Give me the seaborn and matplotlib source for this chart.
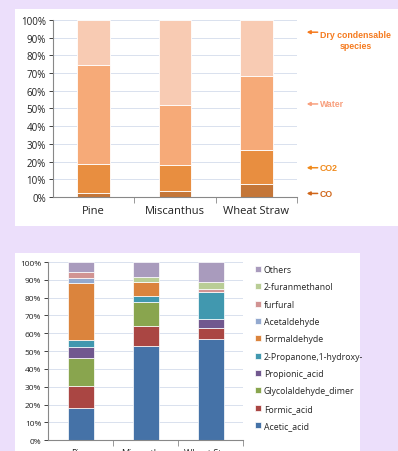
import seaborn as sns
import pandas as pd
import matplotlib.pyplot as plt
import matplotlib.ticker as mtick
from matplotlib.patches import Rectangle

# Data
feedstocks = ["Pine", "Miscanthus", "Wheat Straw"]

# top chart: gas/liquid split (%)
gas_parts = ["Dry condensable species", "Water", "CO2", "CO"]
co = [2.4, 3.4, 7.6]
co2 = [16.2, 14.7, 18.8]
water = [55.9, 33.8, 41.8]
dry_condensable = [25.5, 48.1, 31.8]

# bottom chart: composition of condensables (%)
species = ["Others", "2-furanmethanol", "furfural", "Acetaldehyde", "Formaldehyde",
           "2-Propanone,1-hydroxy-", "Propionic_acid", "Glycolaldehyde_dimer",
           "Formic_acid", "Acetic_acid"]
others = [5.3, 8.3, 11.3]
furanmethanol = [0.0, 2.8, 4.1]
furfural = [3.5, 0.0, 1.5]
acetaldehyde = [2.7, 0.0, 0.0]
formaldehyde = [32.1, 7.9, 0.0]
propanone = [3.9, 3.7, 15.2]
propionic_acid = [6.6, 0.0, 5.1]
glycolaldehyde = [15.6, 13.0, 0.0]
formic_acid = [12.3, 11.7, 6.0]
acetic_acid = [18.0, 52.6, 56.8]

gas_colors = ["#F8CBB3", "#F6AA78", "#E88E40", "#C47638"]
species_colors = ["#A99BBD", "#B9CD96", "#D19392", "#93A9CF", "#DB843D",
                  "#4198AF", "#71588F", "#89A54E", "#AA4643", "#4572A7"]

df_gas = pd.DataFrame({
    "feed": feedstocks * 4,
    "part": [p for p in gas_parts for _ in feedstocks],
    "pct": dry_condensable + water + co2 + co,
})
df_spec = pd.DataFrame({
    "feed": feedstocks * len(species),
    "part": [s for s in species for _ in feedstocks],
    "pct": others + furanmethanol + furfural + acetaldehyde + formaldehyde
           + propanone + propionic_acid + glycolaldehyde + formic_acid + acetic_acid,
})

sns.set_theme(style="white")
plt.rcParams["font.family"] = ["Open Sans", "DejaVu Sans"]

fig = plt.figure(figsize=(3.98, 4.52), dpi=100)
fig.patch.set_facecolor("#ECDFFB")

# white panels behind the two charts
fig.add_artist(Rectangle((0.038, 0.498), 0.962, 0.48, transform=fig.transFigure,
                         facecolor="white", edgecolor="none", zorder=0))
fig.add_artist(Rectangle((0.038, 0.0), 0.867, 0.438, transform=fig.transFigure,
                         facecolor="white", edgecolor="none", zorder=0))


def style_axis(ax, tick_size, label_size):
    ax.set_facecolor("none")
    ax.set_xlim(-0.5, 2.5)
    ax.set_ylim(0, 100)
    ax.set_yticks(range(0, 101, 10))
    ax.yaxis.set_major_formatter(mtick.PercentFormatter(decimals=0))
    ax.set_xticks(range(3))
    ax.set_xticklabels(feedstocks, fontsize=label_size, color="#222222")
    ax.tick_params(axis="y", labelsize=tick_size, length=3, pad=2, colors="#222222",
                   left=True, width=0.6)
    ax.tick_params(axis="x", length=0, pad=6)
    ax.set_xticks([0.5, 1.5, 2.5], minor=True)
    ax.tick_params(axis="x", which="minor", bottom=True, length=4, width=0.6,
                   color="#888888")
    ax.grid(axis="y", color="#D9E1EE", linewidth=0.7)
    ax.set_axisbelow(True)
    for s in ["top", "right"]:
        ax.spines[s].set_visible(False)
    for s in ["left", "bottom"]:
        ax.spines[s].set_color("#888888")
        ax.spines[s].set_linewidth(0.8)
    ax.set_xlabel("")
    ax.set_ylabel("")


# Top chart
ax1 = fig.add_axes([0.133, 0.562, 0.613, 0.392])
sns.histplot(data=df_gas, x="feed", weights="pct", hue="part", hue_order=gas_parts,
             multiple="stack", discrete=True, shrink=0.4, palette=gas_colors,
             alpha=1, edgecolor="white", linewidth=0.6, legend=False, ax=ax1)
style_axis(ax1, 7, 8)

notes = [("Dry condensable\nspecies", 93, "#F57A1E"), ("Water", 52.5, "#F8A07E"),
         ("CO2", 16.5, "#F08A1C"), ("CO", 2, "#D0661A")]
for label, yv, c in notes:
    ax1.annotate("", xy=(1.04, yv), xytext=(1.085, yv), xycoords=("axes fraction", "data"),
                 arrowprops=dict(arrowstyle="-|>", color=c, lw=1.1, mutation_scale=5,
                                 shrinkA=0, shrinkB=0),
                 annotation_clip=False)
    ax1.text(1.095, yv if "\n" not in label else yv - 4.5, label,
             transform=ax1.get_yaxis_transform(), family=["Liberation Sans", "DejaVu Sans"],
             color=c, fontsize=6.3, fontweight="bold", ha="left", va="center",
             multialignment="center", clip_on=False)

# Bottom chart
ax2 = fig.add_axes([0.121, 0.024, 0.49, 0.394])
sns.histplot(data=df_spec, x="feed", weights="pct", hue="part", hue_order=species,
             multiple="stack", discrete=True, shrink=0.4, palette=species_colors,
             alpha=1, edgecolor="white", linewidth=0.5, ax=ax2)
style_axis(ax2, 6, 6.5)
sns.move_legend(ax2, "center left", bbox_to_anchor=(1.02, 0.52), title=None,
                frameon=False, fontsize=6.3, handlelength=0.7, handleheight=0.7,
                handletextpad=0.3, labelspacing=0.95)

plt.savefig("out.png", dpi=100, facecolor=fig.get_facecolor())
